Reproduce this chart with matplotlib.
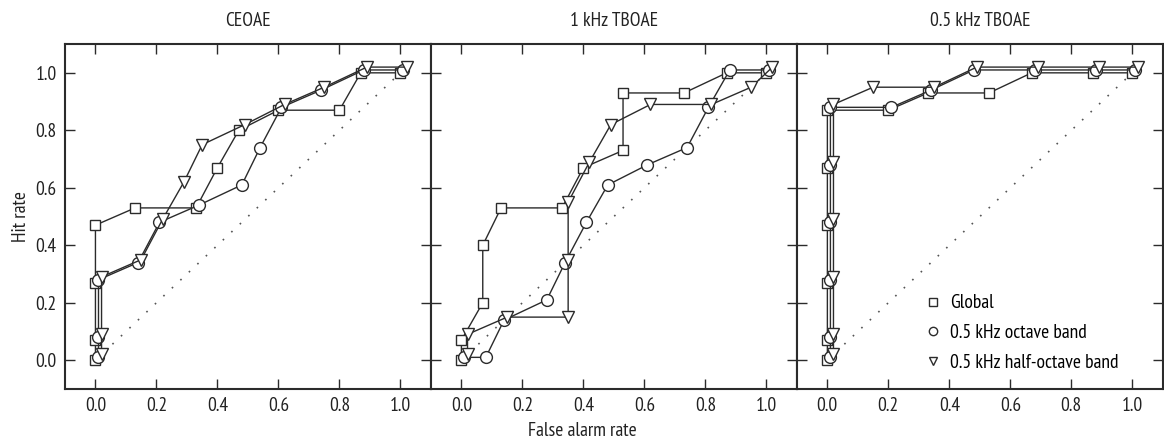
import matplotlib
matplotlib.use("Agg")
import matplotlib.pyplot as plt
import numpy as np

plt.rcParams['font.family'] = ['PT Sans Narrow', 'Fira Sans Condensed', 'Roboto Condensed',
                               'Archivo Narrow', 'Asap Condensed', 'DejaVu Sans']

panels = ["CEOAE", "1 kHz TBOAE", "0.5 kHz TBOAE"]
series_names = ["Global", "0.5 kHz octave band", "0.5 kHz half-octave band"]

# CEOAE
ce_global_x = [0, 0, 0, 0, 0.13, 0.33, 0.40, 0.47, 0.60, 0.80, 0.87, 1.0]
ce_global_y = [0, 0.07, 0.27, 0.47, 0.53, 0.53, 0.67, 0.80, 0.87, 0.87, 1.0, 1.0]
ce_oct_x = [0, 0, 0, 0.13, 0.20, 0.33, 0.47, 0.53, 0.60, 0.73, 0.87, 1.0]
ce_oct_y = [0, 0.07, 0.27, 0.33, 0.47, 0.53, 0.60, 0.73, 0.87, 0.93, 1.0, 1.0]
ce_half_x = [0, 0, 0, 0.13, 0.20, 0.27, 0.33, 0.47, 0.60, 0.73, 0.87, 1.0]
ce_half_y = [0, 0.07, 0.27, 0.33, 0.47, 0.60, 0.73, 0.80, 0.87, 0.93, 1.0, 1.0]

# 1 kHz TBOAE
tb1_global_x = [0, 0, 0.07, 0.07, 0.13, 0.33, 0.40, 0.53, 0.53, 0.73, 0.87, 1.0]
tb1_global_y = [0, 0.07, 0.20, 0.40, 0.53, 0.53, 0.67, 0.73, 0.93, 0.93, 1.0, 1.0]
tb1_oct_x = [0, 0.07, 0.13, 0.27, 0.33, 0.40, 0.47, 0.60, 0.73, 0.80, 0.87, 1.0]
tb1_oct_y = [0, 0.0, 0.13, 0.20, 0.33, 0.47, 0.60, 0.67, 0.73, 0.87, 1.0, 1.0]
tb1_half_x = [0, 0, 0.13, 0.33, 0.33, 0.33, 0.40, 0.47, 0.60, 0.80, 0.93, 1.0]
tb1_half_y = [0, 0.07, 0.13, 0.13, 0.33, 0.53, 0.67, 0.80, 0.87, 0.87, 0.93, 1.0]

# 0.5 kHz TBOAE
tb05_global_x = [0, 0, 0, 0, 0, 0, 0.20, 0.33, 0.53, 0.67, 0.87, 1.0]
tb05_global_y = [0, 0.07, 0.27, 0.47, 0.67, 0.87, 0.87, 0.93, 0.93, 1.0, 1.0, 1.0]
tb05_oct_x = [0, 0, 0, 0, 0, 0, 0.20, 0.33, 0.47, 0.67, 0.87, 1.0]
tb05_oct_y = [0, 0.07, 0.27, 0.47, 0.67, 0.87, 0.87, 0.93, 1.0, 1.0, 1.0, 1.0]
tb05_half_x = [0, 0, 0, 0, 0, 0, 0.13, 0.33, 0.47, 0.67, 0.87, 1.0]
tb05_half_y = [0, 0.07, 0.27, 0.47, 0.67, 0.87, 0.93, 0.93, 1.0, 1.0, 1.0, 1.0]

data = [
    [(ce_global_x, ce_global_y), (ce_oct_x, ce_oct_y), (ce_half_x, ce_half_y)],
    [(tb1_global_x, tb1_global_y), (tb1_oct_x, tb1_oct_y), (tb1_half_x, tb1_half_y)],
    [(tb05_global_x, tb05_global_y), (tb05_oct_x, tb05_oct_y), (tb05_half_x, tb05_half_y)],
]

markers = ['s', 'o', 'v']
msizes = [7, 8.5, 8.5]
offsets = [0.0, 0.01, 0.02]  # small shift so overlapping curves stay visible
ink = '#2b2b2b'
txt = '#222222'
fs = 14

fig = plt.figure(figsize=(11.64, 4.41), dpi=100)
left, bottom, w, h = 0.0558, 0.118, 0.3144, 0.782
axes = [fig.add_axes([left + i * w, bottom, w, h]) for i in range(3)]

ticks = np.arange(0, 1.01, 0.2)
for i, ax in enumerate(axes):
    ax.plot([0, 1], [0, 1], linestyle=(0, (1, 6)), color='#555555', lw=1.2, zorder=1)
    for k in range(3):
        x, y = data[i][k]
        ax.plot(np.array(x) + offsets[k], np.array(y) + offsets[k],
                marker=markers[k], ms=msizes[k], mfc='white', mec=ink, mew=1.0,
                color=ink, lw=1.0, label=series_names[k], zorder=2 + k)
    ax.set_xlim(-0.1, 1.1)
    ax.set_ylim(-0.1, 1.1)
    ax.set_xticks(ticks)
    ax.set_yticks(ticks)
    ax.set_xticklabels([f"{v:.1f}" for v in ticks])
    ax.set_yticklabels([f"{v:.1f}" for v in ticks])
    ax.tick_params(direction='in', length=7, width=1.0, color=ink, top=True, right=True,
                   labelsize=fs, labelcolor=txt, pad=6)
    if i > 0:
        ax.tick_params(labelleft=False)
    for s in ax.spines.values():
        s.set_linewidth(1.5)
        s.set_color(ink)
    ax.set_title(panels[i], fontsize=fs, pad=13, color=txt)

axes[0].set_ylabel("Hit rate", fontsize=fs, color=txt, labelpad=4)
fig.text(0.5, 0.003, "False alarm rate", ha='center', va='bottom', fontsize=fs, color=txt)

leg = axes[2].legend(loc='lower left', bbox_to_anchor=(0.35, 0.05), frameon=False,
                     borderpad=0, borderaxespad=0, handlelength=0.8, handletextpad=0.5,
                     fontsize=fs, labelspacing=0.6)
for hdl in leg.legend_handles:
    hdl.set_linestyle('None')
    hdl.set_markersize(6)
    hdl.set_markeredgewidth(1.0)

fig.savefig("out.png", dpi=100)
